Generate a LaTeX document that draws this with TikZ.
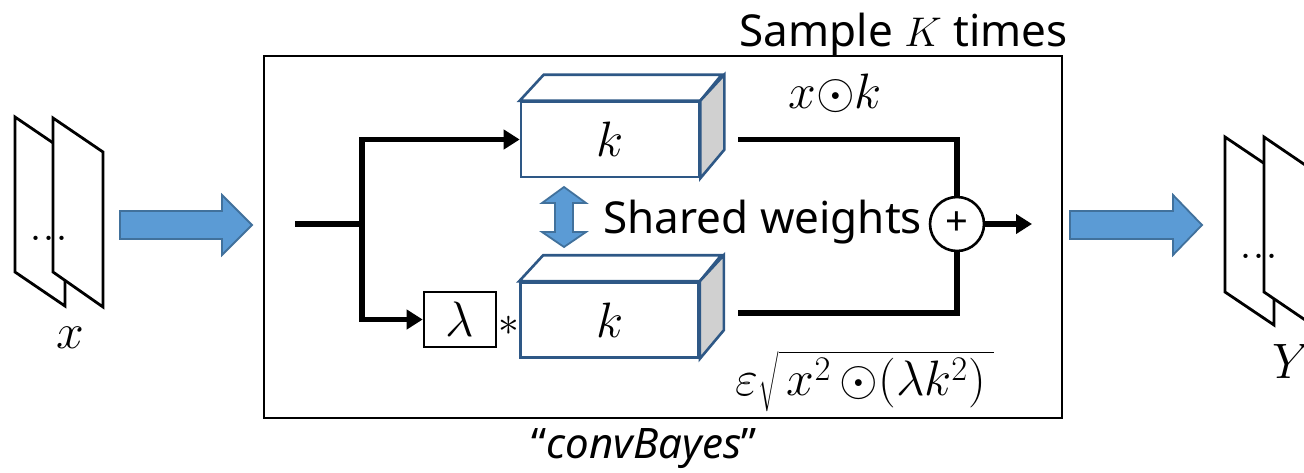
\documentclass[tikz,border=0pt]{standalone}
\usepackage{fontspec}
\newfontfamily\labfont{Noto Sans}
\usetikzlibrary{arrows.meta}
\definecolor{bluefill}{RGB}{91,155,213}
\definecolor{blueedge}{RGB}{65,113,156}
\definecolor{cubeedge}{RGB}{46,88,134}
\definecolor{sidegray}{RGB}{208,208,208}
\begin{document}
\begin{tikzpicture}[x=0.5pt,y=-0.5pt,
  plane/.style={draw=black,line width=1.4pt,fill=white,line join=miter},
  blockarrow/.style={fill=bluefill,draw=blueedge,line width=0.9pt,line join=miter},
  flow/.style={line width=2.8pt,line join=miter},
  flowarrow/.style={flow,-{Triangle[length=8pt,width=9.5pt]}},
  cubeface/.style={draw=cubeedge,line width=1.3pt,fill=white,minimum width=89pt,minimum height=37.5pt,inner sep=0pt,font=\fontsize{25}{27}\selectfont},
  cubeline/.style={draw=cubeedge,line width=1.3pt,line join=miter},
  lab/.style={font=\labfont\fontsize{22}{26}\selectfont,inner sep=0pt},
  mathlab/.style={font=\fontsize{25}{28}\selectfont,inner sep=0pt},
  dots/.style={font=\fontsize{26}{28}\selectfont,inner sep=0pt}
]
\useasboundingbox (0,0) rectangle (1304,472);
\clip (0,0) rectangle (1304,472);

% left feature maps
\draw[plane] (15,117) -- (65,151) -- (65,306) -- (15,272) -- cycle;
\draw[plane] (53,118) -- (103,152) -- (103,307) -- (53,272) -- cycle;
\node[dots,anchor=base] (dotsL) at (49,240) {...};
\node[mathlab,anchor=base] (xlab) at (70,348) {$x$};

% left block arrow
\draw[blockarrow] (120,211) -- (222,211) -- (222,195) -- (252,225) -- (222,255) -- (222,239) -- (120,239) -- cycle;

% main box
\node[draw,line width=1.3pt,minimum width=399pt,minimum height=181pt,inner sep=0pt] (conv) at (663,237) {};
\node[lab,anchor=base east] (sample) at (1068,46) {Sample \(K\) times};
\node[lab,anchor=base,font=\labfont\fontsize{21}{24}\selectfont] (convname) at (644,458) {“\textit{convBayes}”};

% cubes
\node[cubeface] (k1) at (610,139.5) {$k$};
\draw[cubeline,fill=white] (k1.north west) -- ++(24,-26) -- ++(178,0) -- (k1.north east) -- cycle;
\draw[cubeline,fill=sidegray] (k1.north east) -- ++(24,-26) -- ++(0,75) -- (k1.south east) -- cycle;

\node[cubeface] (k2) at (609.5,320) {$k$};
\draw[cubeline,fill=white] (k2.north west) -- ++(24,-26) -- ++(178,0) -- (k2.north east) -- cycle;
\draw[cubeline,fill=sidegray] (k2.north east) -- ++(24,-26) -- ++(0,75) -- (k2.south east) -- cycle;

% lambda box
\node[draw,line width=1.3pt,minimum width=36pt,minimum height=27.5pt,inner sep=0pt,font=\fontsize{25}{27}\selectfont] (lam) at (460,319.5) {$\lambda$};
\node[inner sep=0pt,font=\fontsize{22}{24}\selectfont] (star) at (509,326) {$*$};

% shared weights
\draw[blockarrow] (564,187) -- (586,203) -- (573,203) -- (573,232) -- (586,232) -- (564,247) -- (542,232) -- (555,232) -- (555,203) -- (542,203) -- cycle;
\node[lab,anchor=base west] (shared) at (603,233) {Shared weights};

% sum node
\node[draw,circle,line width=1.3pt,minimum size=27pt,inner sep=0pt,font=\labfont\fontsize{20}{22}\selectfont] (sum) at (957,224) {+};

% connectors
\coordinate (in) at (295,224);
\coordinate (split) at (362,224);
\coordinate (o1) at (738,139.5);
\coordinate (o2) at (738,313);
\coordinate (out) at (1032,224);
\draw[flow] (in) -- (split);
\draw[flowarrow] (split) |- (k1.west);
\draw[flowarrow] (split) |- (lam.west);
\draw[flow] (o1) -| (sum.north);
\draw[flow] (o2) -| (sum.south);
\draw[flowarrow] (sum.east) -- (out);

% formulas
\node[mathlab,anchor=base] (prod) at (835,108) {$x{\odot}k$};
\node[mathlab,anchor=base] (noise) at (865,395) {$\varepsilon\sqrt{\,x^2\,{\odot}(\lambda k^2)\,}$};

% right block arrow
\draw[blockarrow] (1070,211) -- (1173,211) -- (1173,195) -- (1202,225) -- (1173,255) -- (1173,239) -- (1070,239) -- cycle;

% right feature maps
\draw[plane] (1225,137) -- (1274,170) -- (1274,325) -- (1225,292) -- cycle;
\draw[plane] (1264,137) -- (1314,171) -- (1314,326) -- (1264,292) -- cycle;
\node[dots,anchor=base] (dotsR) at (1259,258) {...};
\node[mathlab,anchor=base] (ylab) at (1292,378) {$Y$};
\end{tikzpicture}
\end{document}
